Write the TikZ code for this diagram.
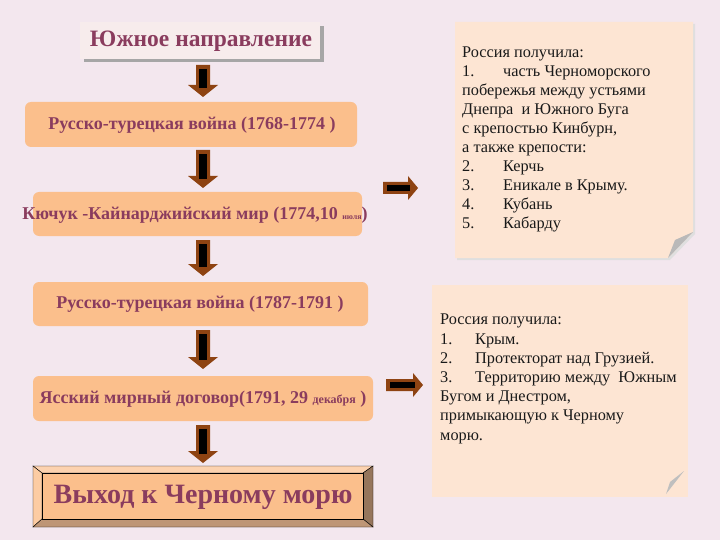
\documentclass[tikz,border=0pt]{standalone}
\usepackage{fontspec}
\setmainfont{Liberation Serif}
\definecolor{bgc}{HTML}{F3E7EE}
\definecolor{peach}{HTML}{FBBF8C}
\definecolor{notec}{HTML}{FDE5D3}
\definecolor{txtc}{HTML}{8A3C5E}
\definecolor{arrbrown}{HTML}{8E4312}
\definecolor{titlef}{HTML}{F7ECEC}
\tikzset{
  stagebox/.style={rounded corners=6pt, fill=peach, draw=none},
  stagetext/.style={text=txtc, font=\bfseries\fontsize{18}{20}\selectfont, inner sep=0pt},
  notetext/.style={font=\fontsize{16.3}{19}\selectfont, align=left, inner sep=0pt, anchor=north west, text=black!90},
}
\newcommand\dnarr[3]{% x, ytop, ybottom
  \fill[arrbrown] (#1-7,#2) -- (#1+7,#2) -- (#1+7,#3-12) -- (#1+15,#3-12) -- (#1,#3) -- (#1-15,#3-12) -- (#1-7,#3-12) -- cycle;
  \fill[black] (#1-4,#2+4) rectangle (#1+4,#3-9);
}
\newcommand\rtarr[3]{% xleft, xright, y
  \fill[arrbrown] (#1,#3-6) -- (#2-10,#3-6) -- (#2-10,#3-12) -- (#2,#3) -- (#2-10,#3+12) -- (#2-10,#3+6) -- (#1,#3+6) -- cycle;
  \fill[black] (#1+4,#3-3) rectangle (#2-8,#3+3);
}
\newcommand\nm[1]{\makebox[41pt][l]{#1}}
\begin{document}
\begin{tikzpicture}[x=1pt,y=-1pt]
\fill[bgc] (0,0) rectangle (720,540);
\useasboundingbox (0,0) rectangle (720,540);

% title
\fill[gray!70] (84,26) rectangle (324,62);
\fill[titlef] (80,22) rectangle (320,59);
\node[text=txtc, font=\bfseries\fontsize{23.5}{26}\selectfont, inner sep=0pt] (title) at (201,41) {Южное направление};

% stage boxes
\fill[stagebox] (25,102) rectangle (357,147);
\node[stagetext] (b1) at (192,125) {Русско-турецкая война (1768-1774 )};
\fill[stagebox] (33,192) rectangle (362,236);
\node[stagetext] (b2) at (195,215) {Кючук -Кайнарджийский мир (1774,10 {\fontsize{8}{9}\selectfont июля})};
\fill[stagebox] (33,282) rectangle (368,326);
\node[stagetext] (b3) at (200,304) {Русско-турецкая война (1787-1791 )};
\fill[stagebox] (33,376) rectangle (373,421);
\node[stagetext] (b4) at (203,399) {Ясский мирный договор(1791, 29 {\fontsize{12}{13}\selectfont декабря} )};

% final beveled box
\filldraw[fill=peach!70!white, draw=black] (33,466) -- (373,466) -- (363,473) -- (42,473) -- cycle;
\filldraw[fill=peach!80!white, draw=black] (33,466) -- (42,473) -- (42,519) -- (33,527) -- cycle;
\filldraw[fill={rgb,255:red,150;green,118;blue,92}, draw=black] (373,466) -- (373,527) -- (363,519) -- (363,473) -- cycle;
\filldraw[fill={rgb,255:red,190;green,150;blue,118}, draw=black] (33,527) -- (42,519) -- (363,519) -- (373,527) -- cycle;
\filldraw[fill=peach, draw=black] (42,473) rectangle (363,519);
\node[text=txtc, font=\bfseries\fontsize{28}{31}\selectfont, inner sep=0pt] (fin) at (203,497) {Выход к Черному морю};

% down arrows
\dnarr{203}{65}{97}
\dnarr{203}{150}{188}
\dnarr{203}{240}{276}
\dnarr{203}{330}{369}
\dnarr{203}{425}{463}

% right arrows
\rtarr{383}{418}{188}
\rtarr{386}{423}{385}

% note 1
\fill[gray!25] (457,24) -- (695,24) -- (695,234) -- (670,260) -- (457,260) -- cycle;
\fill[notec] (455,22) -- (693,22) -- (693,232) -- (668,258) -- (455,258) -- cycle;
\fill[gray!55] (693,232) -- (668,258) -- (675,240) -- cycle;
\node[notetext] (n1) at (462,47) {Россия получила:\\
\nm{1.}часть Черноморского\\
побережья между устьями\\
Днепра\ \ и Южного Буга\\
с крепостью Кинбурн,\\
а также крепости:\\
\nm{2.}Керчь\\
\nm{3.}Еникале в Крыму.\\
\nm{4.}Кубань\\
\nm{5.}Кабарду};

% note 2
\fill[notec] (432,285) rectangle (688,497);
\fill[gray!50] (684,471) -- (666,494) -- (670,482) -- cycle;
\node[notetext, font=\fontsize{16.3}{19.2}\selectfont] (n2) at (440,314) {Россия получила:\\
\makebox[35pt][l]{1.}Крым.\\
\makebox[35pt][l]{2.}Протекторат над Грузией.\\
\makebox[35pt][l]{3.}Территорию между\ \ Южным\\
Бугом и Днестром,\\
примыкающую к Черному\\
морю.};
\end{tikzpicture}
\end{document}
